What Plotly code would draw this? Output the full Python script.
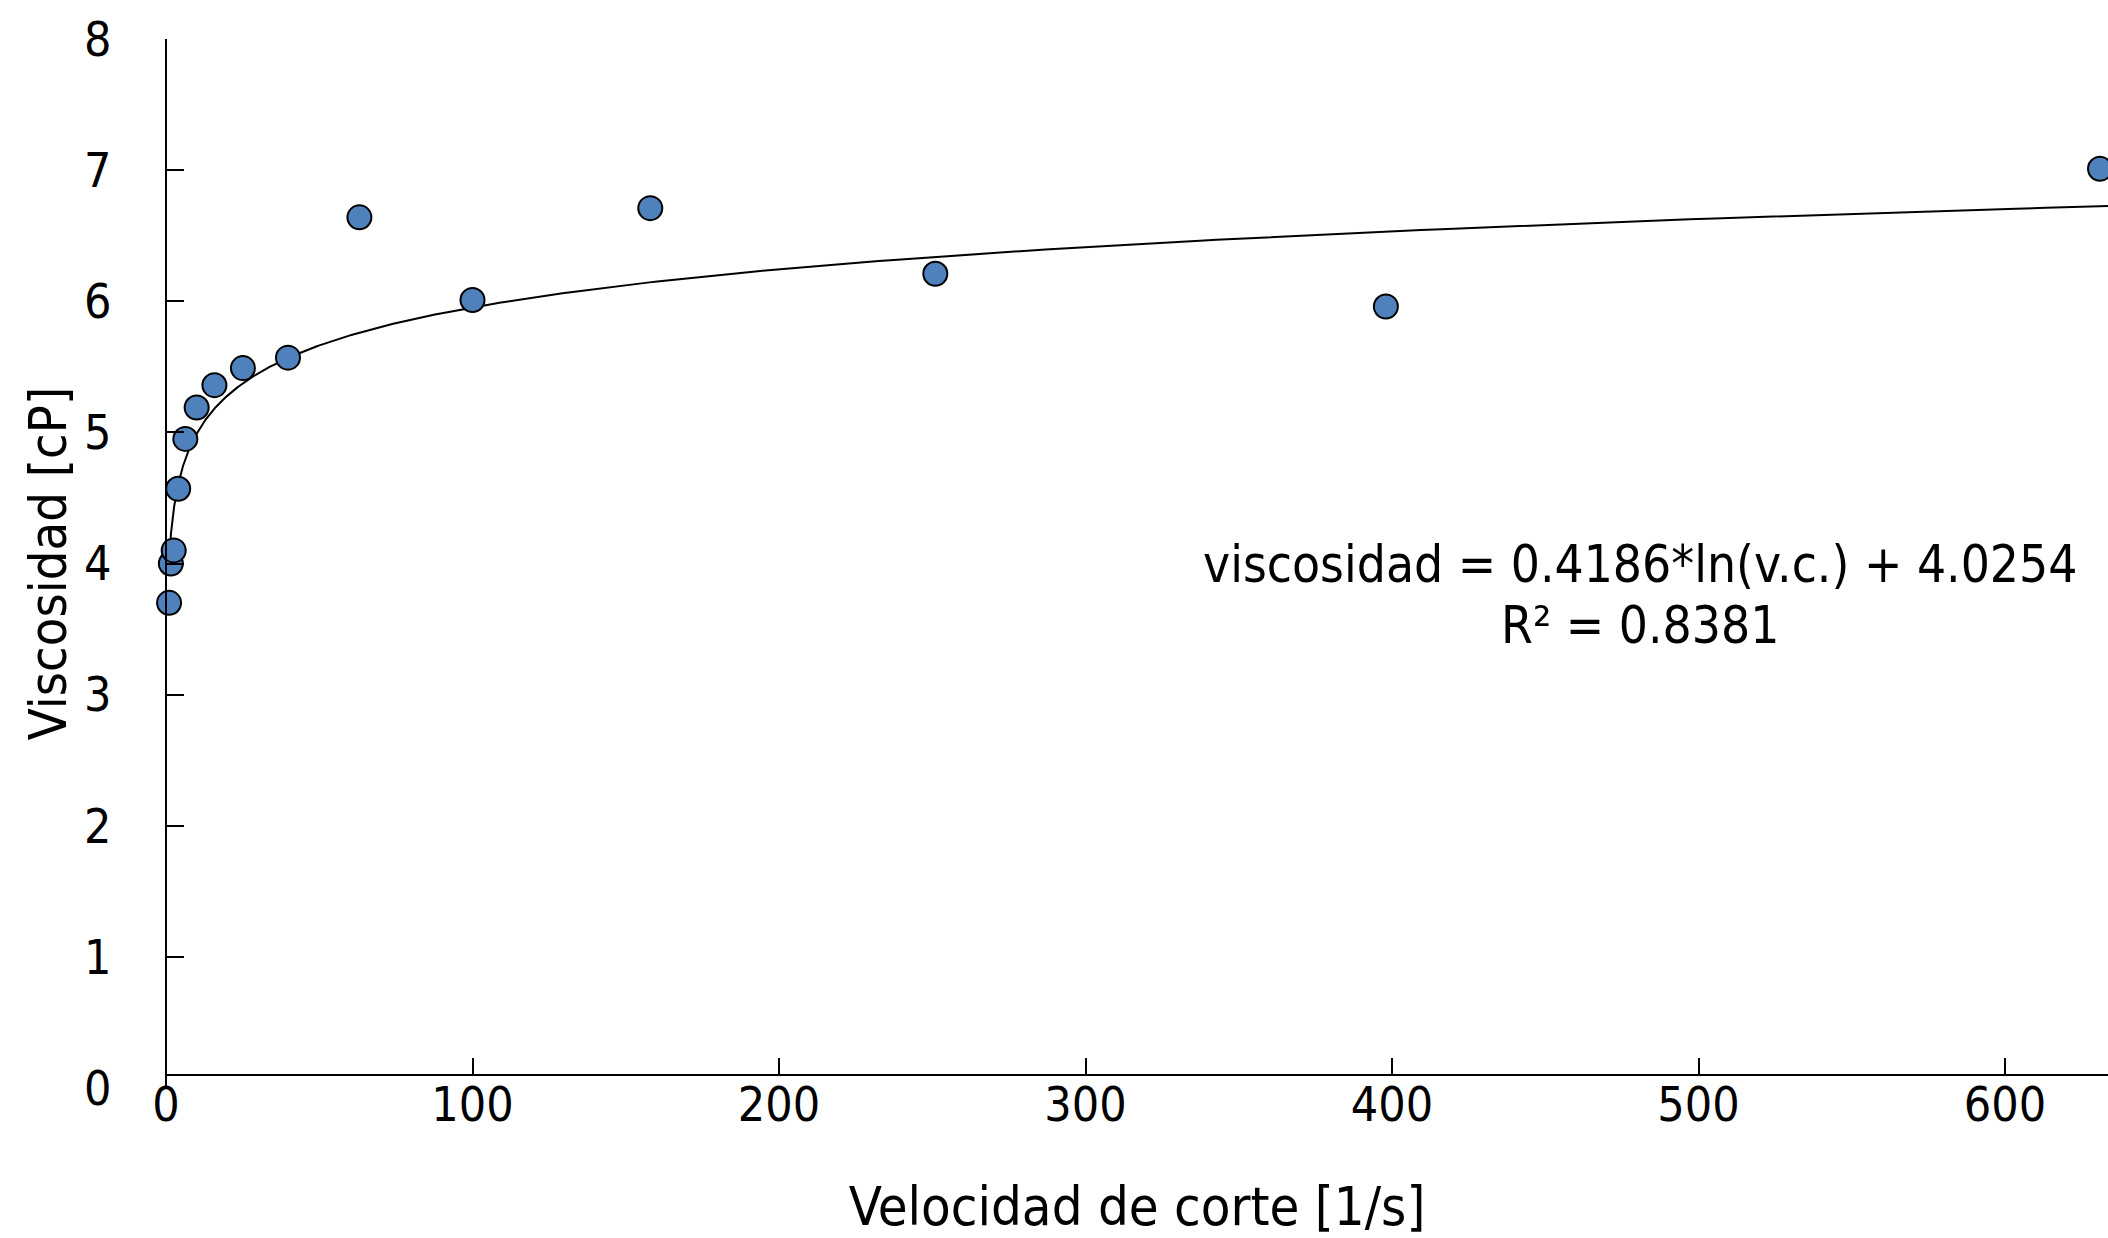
import numpy as np
import plotly.graph_objects as go

# Shear rate [1/s] and measured viscosity [cP]
shear_rate = [1, 1.58, 2.51, 3.98, 6.31, 10, 15.8, 25.1, 39.8, 63.1, 100, 158, 251, 398, 631]
viscosity = [3.70, 4.00, 4.10, 4.57, 4.95, 5.19, 5.36, 5.49, 5.57, 6.64, 6.01, 6.71, 6.21, 5.96, 7.01]

# Logarithmic trendline coefficients
fit_a = 0.4186
fit_b = 4.0254
fit_r2 = 0.8381

x_ticks = [0, 100, 200, 300, 400, 500, 600]
y_ticks = [0, 1, 2, 3, 4, 5, 6, 7, 8]

FONT = "DejaVu Sans Condensed, Liberation Sans Narrow, DejaVu Sans, sans-serif"
W, H = 2108, 1238
ML, MR, MT, MB = 166, 0, 39, 150
X_MAX = (W - ML - MR) / 3.065

# Trendline drawn across the whole x range from the fitted equation
x_fit = np.geomspace(min(shear_rate), X_MAX, 400)
y_fit = fit_a * np.log(x_fit) + fit_b

fig = go.Figure()
fig.add_trace(go.Scatter(
    x=x_fit, y=y_fit, mode="lines",
    line=dict(color="black", width=2),
    hoverinfo="skip", showlegend=False,
))
fig.add_trace(go.Scatter(
    x=shear_rate, y=viscosity, mode="markers",
    marker=dict(size=24, color="#4F81BD", line=dict(color="black", width=2)),
    showlegend=False, cliponaxis=False,
))

# x axis line sits slightly above y = 0
x_axis_y = 0.1
y_min, y_max = 0, 8
x_pos = (x_axis_y - y_min) / (y_max - y_min)

fig.update_layout(
    width=W, height=H,
    margin=dict(l=ML, r=MR, t=MT, b=MB),
    paper_bgcolor="white", plot_bgcolor="white",
    font=dict(family=FONT, size=48, color="black"),
    xaxis=dict(
        range=[0, X_MAX],
        tickvals=x_ticks, ticktext=[str(v) for v in x_ticks],
        ticks="inside", ticklen=16, tickwidth=2, tickcolor="black",
        showline=True, linecolor="black", linewidth=2,
        showgrid=False, zeroline=False,
        anchor="free", position=x_pos,
        ticklabelstandoff=-12,
        title=dict(text="Velocidad de corte [1/s]", standoff=56,
                   font=dict(family=FONT, size=54)),
    ),
    yaxis=dict(
        range=[y_min, y_max],
        tickvals=y_ticks, ticktext=[str(v) for v in y_ticks],
        ticks="inside", ticklen=17, tickwidth=2, tickcolor="black",
        showline=True, linecolor="black", linewidth=2,
        showgrid=False, zeroline=False,
        anchor="free", position=0,
        ticklabelstandoff=44,
        title=dict(text="Viscosidad [cP]", standoff=0,
                   font=dict(family=FONT, size=52)),
    ),
)

fig.add_annotation(
    x=481, y=3.99, xref="x", yref="y",
    text=f"viscosidad = {fit_a:.4f}*ln(v.c.) + {fit_b:.4f}",
    showarrow=False, font=dict(family=FONT, size=51),
)
fig.add_annotation(
    x=481, y=3.53, xref="x", yref="y",
    text=f"R² = {fit_r2:.4f}",
    showarrow=False, font=dict(family=FONT, size=51),
)

fig.write_html("out.html")
